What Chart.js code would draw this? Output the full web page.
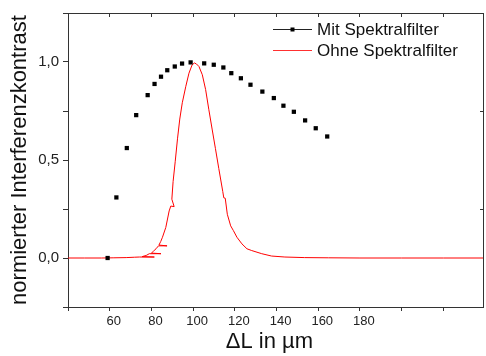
<!DOCTYPE html>
<html>
<head>
<meta charset="utf-8">
<script src="https://cdn.jsdelivr.net/npm/chart.js@4.4.1/dist/chart.umd.min.js"></script>
<style>
html, body { margin: 0; padding: 0; background: #fff; }
#wrap { width: 486px; height: 356px; }
</style>
</head>
<body>
<div id="wrap"><canvas id="kontrastChart" width="486" height="356"></canvas></div>
<script>
// Mit Spektralfilter (einzelne Messpunkte)
const mitX = [59, 63.2, 68.2, 72.7, 78.2, 81.5, 84.6, 87.6, 91.2, 94.7, 98.8, 105.3, 109.9, 114.5,
    118.3, 122.9, 127.5, 133.2, 138.7, 143.3, 148.3, 153.7, 158.8, 164.3];
const mitY = [0, 0.309, 0.561, 0.729, 0.831, 0.888, 0.925, 0.958, 0.977, 0.992, 0.998, 0.993, 0.986, 0.972,
    0.943, 0.917, 0.884, 0.849, 0.816, 0.777, 0.746, 0.702, 0.662, 0.620];

// Ohne Spektralfilter (gemessene Kurve, inkl. Ausreisser)
const ohneX = [40, 48, 56, 62, 67.9, 72, 74.2, 81.4, 75.5, 77.5, 79, 84.6, 80, 81, 82.2, 83.4, 87.5, 83.6,
    84.5, 85.3, 86.9, 88.5, 89.3, 90.9, 89.8, 90.4, 91.4, 92.5, 93.6, 94.8, 96.5, 98, 99.5, 100.6, 101.6,
    102.8, 104.4, 106, 107.5, 109.1, 110.7, 112.3, 114.2, 114.7, 115.4, 116.4, 118, 119.3, 121, 123.4,
    125.8, 128.1, 132.9, 137.6, 144, 153.5, 165, 180, 200, 220, 239];
const ohneY = [0, 0, 0, 0.001, 0.002, 0.004, 0.005, 0.005, 0.007, 0.013, 0.022, 0.022, 0.025, 0.035, 0.047,
    0.062, 0.062, 0.066, 0.085, 0.106, 0.156, 0.24, 0.265, 0.262, 0.3, 0.39, 0.491, 0.608, 0.709, 0.792,
    0.876, 0.943, 0.985, 0.995, 0.99, 0.977, 0.935, 0.859, 0.759, 0.658, 0.558, 0.457, 0.34, 0.307, 0.305,
    0.223, 0.164, 0.14, 0.106, 0.072, 0.047, 0.038, 0.022, 0.01, 0.005, 0.002, 0.001, 0, 0, 0, 0];

const xLabelTicks = [60, 80, 100, 120, 140, 160, 180];
const yLabelTicks = [0, 0.5, 1];
const seriesNames = ['Mit Spektralfilter', 'Ohne Spektralfilter'];

const fontFam = '"Liberation Sans", Arial, sans-serif';
Chart.defaults.font.family = fontFam;

const toPoints = (xs, ys) => xs.map((x, i) => ({ x: x, y: ys[i] }));

// Legende innerhalb des Plots (oben rechts)
const innerLegend = {
    id: 'innerLegend',
    afterDraw(chart) {
        const c = chart.ctx;
        const x0 = 273, len = 39;
        const rows = [29.5, 50.5];
        chart.data.datasets.forEach((ds, i) => {
            const y = rows[i];
            c.save();
            c.strokeStyle = ds.legendLine;
            c.lineWidth = 1;
            c.beginPath();
            c.moveTo(x0, y);
            c.lineTo(x0 + len, y);
            c.stroke();
            if (ds.pointRadius > 0) {
                c.fillStyle = ds.backgroundColor;
                c.fillRect(x0 + len / 2 - 2, y - 2, 4, 4);
            }
            c.fillStyle = '#111';
            c.font = '17px ' + fontFam;
            c.textBaseline = 'middle';
            c.fillText(ds.label, x0 + len + 5, y + 1);
            c.restore();
        });
    }
};

const ctx = document.getElementById('kontrastChart').getContext('2d');
const chart = new Chart(ctx, {
    type: 'scatter',
    data: {
        datasets: [
            {
                label: seriesNames[0],
                data: toPoints(mitX, mitY),
                showLine: false,
                pointStyle: 'rect',
                pointRadius: 3,
                pointHoverRadius: 3,
                backgroundColor: '#000',
                borderColor: '#000',
                borderWidth: 0,
                legendLine: '#222'
            },
            {
                label: seriesNames[1],
                data: toPoints(ohneX, ohneY),
                showLine: true,
                pointRadius: 0,
                borderColor: '#ff0000',
                backgroundColor: '#ff0000',
                borderWidth: 1,
                tension: 0,
                legendLine: '#ff3030'
            }
        ]
    },
    options: {
        responsive: false,
        animation: false,
        layout: { padding: { top: 10, right: 0, bottom: 0, left: 0 } },
        plugins: { legend: { display: false }, tooltip: { enabled: false } },
        scales: {
            x: {
                type: 'linear', position: 'bottom', min: 40, max: 239,
                ticks: {
                    stepSize: 20, includeBounds: false, autoSkip: false, maxRotation: 0,
                    labelOffset: 4, padding: 3, color: '#222', font: { size: 13 },
                    callback: v => xLabelTicks.includes(v) ? String(v) : ''
                },
                grid: { drawOnChartArea: false, tickLength: 4, color: '#333' },
                border: { color: '#333', width: 1 },
                // trailing spaces shift the centred title a little to the left, as in the original
                title: { display: true, text: 'ΔL in µm\u00a0\u00a0', color: '#111', font: { size: 22 }, padding: { top: 0, bottom: 1 } },
                afterFit: s => { s.height = 49; }
            },
            x2: {
                type: 'linear', position: 'top', min: 40, max: 239,
                ticks: { display: false, stepSize: 20, includeBounds: false },
                grid: { drawOnChartArea: false, tickLength: -4, color: '#333' },
                border: { color: '#333', width: 1 },
                afterFit: s => { s.height = 0; }
            },
            y: {
                type: 'linear', position: 'left', min: -0.25, max: 1.25,
                ticks: {
                    stepSize: 0.25, includeBounds: false, autoSkip: false, padding: 4, color: '#222',
                    font: { size: 15 },
                    callback: v => yLabelTicks.some(t => Math.abs(t - v) < 1e-6) ? v.toFixed(1).replace('.', ',') : ''
                },
                grid: { drawOnChartArea: false, tickLength: 5, color: '#333' },
                border: { color: '#333', width: 1 },
                title: {
                    display: true, text: 'normierter Interferenzkontrast', color: '#111',
                    font: { size: 22 }, padding: { top: 7, bottom: 0 }
                },
                afterFit: s => { s.width = 68; }
            },
            y2: {
                type: 'linear', position: 'right', min: -0.25, max: 1.25,
                ticks: { display: false, stepSize: 0.5, includeBounds: false },
                grid: { drawOnChartArea: false, tickLength: -3, color: '#333' },
                border: { color: '#333', width: 1 },
                afterFit: s => { s.width = 0; }
            }
        }
    },
    plugins: [innerLegend]
});
</script>
</body>
</html>
